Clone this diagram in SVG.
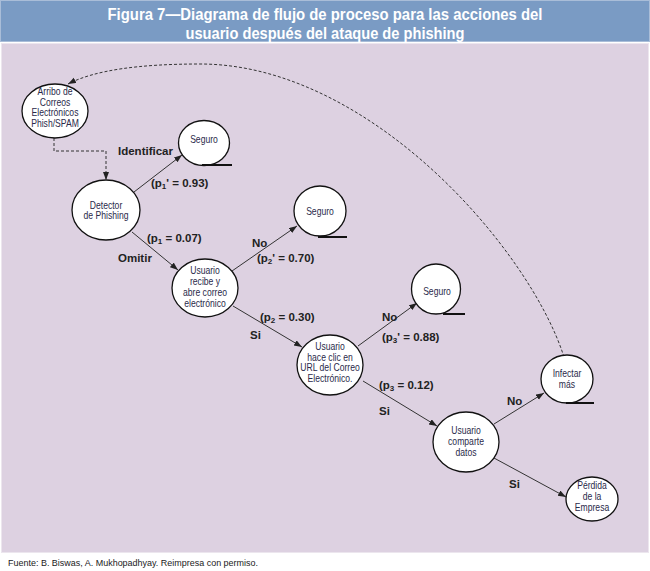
<svg xmlns="http://www.w3.org/2000/svg" width="650" height="571" viewBox="0 0 650 571">
<defs>
<marker id="ah" markerWidth="9" markerHeight="7" refX="8" refY="3" orient="auto" markerUnits="userSpaceOnUse"><path d="M0,0 L8,3 L0,6 z" fill="#222"/></marker>
<style>
.node{fill:#fff;stroke:#111;stroke-width:1.3}
.nt{font-family:"Liberation Sans",Arial,sans-serif;font-size:10.5px;fill:#2a2a4a;text-anchor:middle}
.lbl{font-family:"Liberation Sans",Arial,sans-serif;font-size:11.5px;font-weight:bold;fill:#222}
.sub{font-size:8px}
.conn{stroke:#333;stroke-width:1;fill:none}
.dash{stroke:#333;stroke-width:1;fill:none;stroke-dasharray:3,2}
.ul{stroke:#111;stroke-width:2}
.title{font-family:"Liberation Sans",Arial,sans-serif;font-size:16px;font-weight:bold;fill:#fff;text-anchor:middle}
</style>
</defs>
<rect x="0" y="0" width="650" height="571" fill="#fff"/>
<rect x="0.5" y="0.5" width="649" height="41" fill="#7a9bc4" stroke="#a9bdd8" stroke-width="1"/>
<text class="title" x="325" y="20" textLength="435" lengthAdjust="spacingAndGlyphs">Figura 7—Diagrama de flujo de proceso para las acciones del</text>
<text class="title" x="325" y="38.5" textLength="279" lengthAdjust="spacingAndGlyphs">usuario después del ataque de phishing</text>
<rect x="1.5" y="43.5" width="647" height="509" fill="#ddd1e1" stroke="#ece6ee" stroke-width="1"/>
<g id="connectors">
<path class="conn" d="M134,192 L182,155" marker-end="url(#ah)"/>
<path class="conn" d="M132,232 L178,270" marker-end="url(#ah)"/>
<path class="conn" d="M232,271 L297,226" marker-end="url(#ah)"/>
<path class="conn" d="M233,306 L302,347" marker-end="url(#ah)"/>
<path class="conn" d="M358,346 L417,303" marker-end="url(#ah)"/>
<path class="conn" d="M363,381 L437,426" marker-end="url(#ah)"/>
<path class="conn" d="M494,424 L544,393" marker-end="url(#ah)"/>
<path class="conn" d="M494,458 L566,497" marker-end="url(#ah)"/>
<path class="dash" d="M54,138 L54,151 L106,151 L106,180" marker-end="url(#ah)"/>
<path class="dash" d="M564,357 C530,250 370,64 200,64 C140,64 95,70 68,84" marker-end="url(#ah)"/>
</g>
<g id="n-arribo">
<ellipse class="node" cx="55" cy="111" rx="33" ry="27"/>
<g transform="translate(55 0) scale(0.82 1)">
<text class="nt" x="0" y="95.5">Arribo de</text>
<text class="nt" x="0" y="106">Correos</text>
<text class="nt" x="0" y="116.5">Electrónicos</text>
<text class="nt" x="0" y="127">Phish/SPAM</text>
</g>
</g>
<g id="n-seguro1">
<ellipse class="node" cx="204" cy="143" rx="25.5" ry="22.5"/>
<line class="ul" x1="202" y1="165" x2="232" y2="165"/>
<text class="nt" transform="translate(204 0) scale(0.82 1)" x="0" y="143">Seguro</text>
</g>
<g id="n-detector">
<ellipse class="node" cx="106" cy="210" rx="34" ry="30"/>
<g transform="translate(106 0) scale(0.82 1)">
<text class="nt" x="0" y="209">Detector</text>
<text class="nt" x="0" y="219.5">de Phishing</text>
</g>
</g>
<g id="n-recibe">
<ellipse class="node" cx="205" cy="288" rx="33" ry="29"/>
<g transform="translate(205 0) scale(0.82 1)">
<text class="nt" x="0" y="274.5">Usuario</text>
<text class="nt" x="0" y="285.5">recibe y</text>
<text class="nt" x="0" y="296.5">abre correo</text>
<text class="nt" x="0" y="307">electrónico</text>
</g>
</g>
<g id="n-seguro2">
<ellipse class="node" cx="320" cy="211" rx="26" ry="25"/>
<line class="ul" x1="318" y1="237" x2="347" y2="237"/>
<text class="nt" transform="translate(320 0) scale(0.82 1)" x="0" y="215.5">Seguro</text>
</g>
<g id="n-clic">
<ellipse class="node" cx="330" cy="365" rx="33" ry="30"/>
<g transform="translate(330 0) scale(0.82 1)">
<text class="nt" x="0" y="350">Usuario</text>
<text class="nt" x="0" y="361">hace clic en</text>
<text class="nt" x="0" y="371.5">URL del Correo</text>
<text class="nt" x="0" y="382">Electrónico.</text>
</g>
</g>
<g id="n-seguro3">
<ellipse class="node" cx="436" cy="289" rx="24.5" ry="25"/>
<line class="ul" x1="443" y1="314" x2="465" y2="314"/>
<text class="nt" transform="translate(437 0) scale(0.82 1)" x="0" y="295">Seguro</text>
</g>
<g id="n-comparte">
<ellipse class="node" cx="466" cy="442" rx="33" ry="30"/>
<g transform="translate(466 0) scale(0.82 1)">
<text class="nt" x="0" y="434">Usuario</text>
<text class="nt" x="0" y="445">comparte</text>
<text class="nt" x="0" y="456">datos</text>
</g>
</g>
<g id="n-infectar">
<ellipse class="node" cx="567" cy="379" rx="26" ry="24"/>
<line class="ul" x1="566" y1="403" x2="594" y2="403"/>
<g transform="translate(567 0) scale(0.82 1)">
<text class="nt" x="0" y="377">Infectar</text>
<text class="nt" x="0" y="388">más</text>
</g>
</g>
<g id="n-perdida">
<ellipse class="node" cx="592" cy="499" rx="26" ry="22"/>
<g transform="translate(592 0) scale(0.82 1)">
<text class="nt" x="0" y="489.5">Pérdida</text>
<text class="nt" x="0" y="500.5">de la</text>
<text class="nt" x="0" y="511.5">Empresa</text>
</g>
</g>
<g id="labels">
<text class="lbl" x="118" y="155">Identificar</text>
<text class="lbl" x="151" y="187">(p<tspan class="sub" dy="2">1</tspan><tspan dy="-2">' = 0.93)</tspan></text>
<text class="lbl" x="147" y="242">(p<tspan class="sub" dy="2">1</tspan><tspan dy="-2"> = 0.07)</tspan></text>
<text class="lbl" x="118" y="262">Omitir</text>
<text class="lbl" x="252" y="247">No</text>
<text class="lbl" x="257" y="262">(p<tspan class="sub" dy="2">2</tspan><tspan dy="-2">' = 0.70)</tspan></text>
<text class="lbl" x="260" y="321">(p<tspan class="sub" dy="2">2</tspan><tspan dy="-2"> = 0.30)</tspan></text>
<text class="lbl" x="250" y="339">Si</text>
<text class="lbl" x="382" y="321">No</text>
<text class="lbl" x="382" y="341">(p<tspan class="sub" dy="2">3</tspan><tspan dy="-2">' = 0.88)</tspan></text>
<text class="lbl" x="379" y="389">(p<tspan class="sub" dy="2">3</tspan><tspan dy="-2"> = 0.12)</tspan></text>
<text class="lbl" x="379" y="415">Si</text>
<text class="lbl" x="507" y="405">No</text>
<text class="lbl" x="509" y="488">Si</text>
</g>
<text x="8" y="566" font-family="Liberation Sans,Arial,sans-serif" font-size="9px" fill="#222" textLength="250" lengthAdjust="spacingAndGlyphs">Fuente:  B. Biswas, A. Mukhopadhyay. Reimpresa con permiso.</text>
</svg>
